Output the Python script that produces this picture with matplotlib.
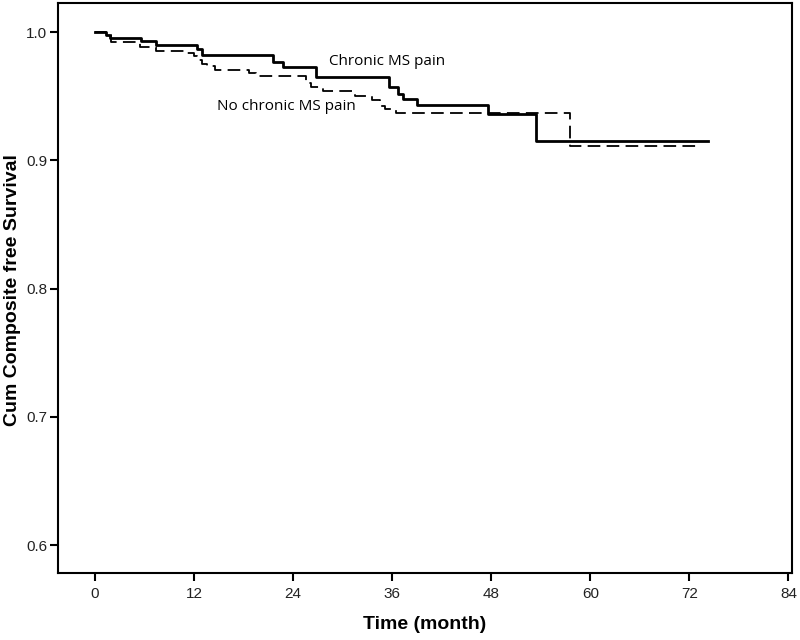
import matplotlib
matplotlib.use("Agg")
import matplotlib.pyplot as plt

# Data (Kaplan-Meier step curves)
chronic_t = [0, 1.3, 1.8, 5.6, 7.4, 12.4, 13.0, 21.6, 22.8, 26.8, 35.6, 36.7, 37.3, 39.0, 47.6, 53.4, 74.3]
chronic_s = [1.0, 0.9975, 0.9955, 0.993, 0.990, 0.987, 0.982, 0.977, 0.973, 0.965, 0.957, 0.952, 0.948, 0.943, 0.936, 0.915, 0.915]

nochronic_t = [0, 1.3, 1.9, 5.5, 7.4, 10.8, 12.0, 12.4, 13.0, 13.6, 14.5, 18.7, 19.5, 25.6, 26.2, 27.6, 31.5, 33.5, 34.5, 35.1, 36.5, 57.5, 73.3]
nochronic_s = [1.0, 0.9975, 0.992, 0.988, 0.9856, 0.9835, 0.981, 0.978, 0.975, 0.9735, 0.9706, 0.968, 0.9654, 0.960, 0.957, 0.9537, 0.950, 0.947, 0.942, 0.940, 0.937, 0.911, 0.911]

x_ticks = [0, 12, 24, 36, 48, 60, 72, 84]
y_ticks = [0.6, 0.7, 0.8, 0.9, 1.0]

fig = plt.figure(figsize=(8, 6.4), dpi=100)
ax = fig.add_axes([0.0729, 0.1047, 0.9896 - 0.0729, 0.9948 - 0.1047])

ax.step(chronic_t, chronic_s, where="post", color="black", lw=2.0)
ax.step(nochronic_t, nochronic_s, where="post", color="black", lw=1.3, dashes=(7, 3.5))

ax.text(28.4, 0.9768, "Chronic MS pain", fontsize=11, family="Open Sans", va="center", ha="left")
ax.text(14.8, 0.9417, "No chronic MS pain", fontsize=11, family="Open Sans", va="center", ha="left")

ax.set_xlim(-4.45, 84.4)
ax.set_ylim(0.5782, 1.0224)
ax.set_xticks(x_ticks)
ax.set_xticklabels([str(v) for v in x_ticks])
ax.set_yticks(y_ticks)
ax.set_yticklabels([f"{v:.1f}" for v in y_ticks])

for lab in ax.get_xticklabels() + ax.get_yticklabels():
    lab.set_family("Liberation Sans")
    lab.set_fontsize(11)
    lab.set_color("#222222")

ax.tick_params(axis="both", direction="out", length=6, width=1.5, color="black")
ax.tick_params(axis="x", pad=4)
ax.tick_params(axis="y", pad=2)
for sp in ax.spines.values():
    sp.set_linewidth(1.5)
    sp.set_color("black")

ax.set_xlabel("Time (month)", fontsize=14, fontweight="bold", family="Liberation Sans", labelpad=11)
ax.set_ylabel("Cum Composite free Survival", fontsize=14, fontweight="bold", family="Liberation Sans", va="center")
ax.yaxis.set_label_coords(-0.0618, 0.497)

fig.savefig("out.png", dpi=100)
